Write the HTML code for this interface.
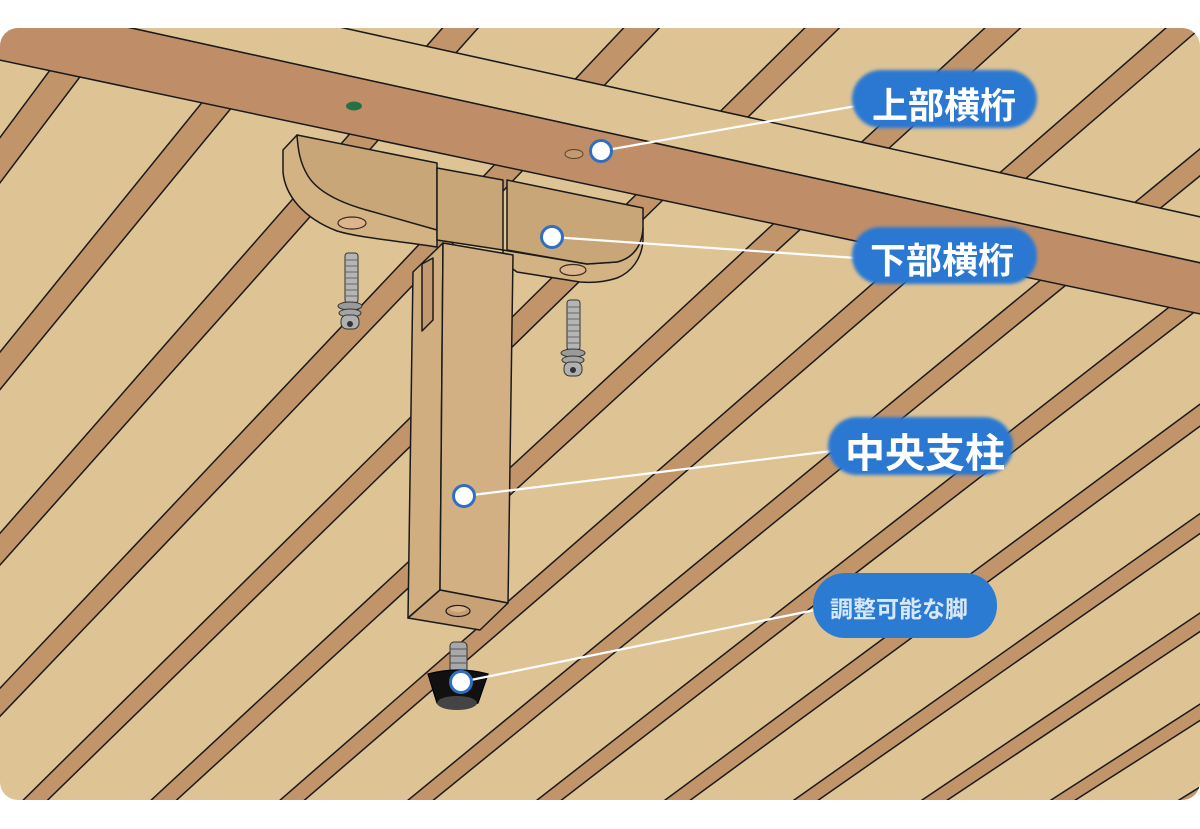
<!DOCTYPE html>
<html><head><meta charset="utf-8"><style>
html,body{margin:0;padding:0;background:#fff;width:1200px;height:829px;overflow:hidden}
svg{display:block}
text{font-family:"Liberation Sans","Noto Sans CJK JP",sans-serif;font-weight:bold}
</style></head><body>
<svg width="1200" height="829" viewBox="0 0 1200 829" xmlns="http://www.w3.org/2000/svg">
<defs>
<clipPath id="c"><rect x="0" y="28" width="1200" height="772" rx="18"/></clipPath>
<filter id="soft" x="-10%" y="-20%" width="120%" height="140%"><feGaussianBlur stdDeviation="1.6"/></filter>
</defs>
<g clip-path="url(#c)">
<rect x="0" y="0" width="1200" height="829" fill="#dec394"/>
<g fill="#c2946a" stroke="#1a1a1a" stroke-width="1.5">
<polygon points="-263,0 -227,0 -741,829 -766,829"/>
<polygon points="-80,0 -45,0 -614,829 -639,829"/>
<polygon points="102,0 138,0 -488,829 -513,829"/>
<polygon points="285,0 320,0 -361,829 -386,829"/>
<polygon points="467,0 503,0 -235,829 -259,829"/>
<polygon points="650,0 686,0 -108,829 -133,829"/>
<polygon points="833,0 868,0 18,829 -6,829"/>
<polygon points="1015,0 1051,0 145,829 120,829"/>
<polygon points="1198,0 1233,0 271,829 247,829"/>
<polygon points="1381,0 1416,0 398,829 373,829"/>
<polygon points="1563,0 1599,0 524,829 500,829"/>
<polygon points="1746,0 1781,0 651,829 626,829"/>
<polygon points="1928,0 1964,0 777,829 753,829"/>
<polygon points="2111,0 2147,0 904,829 879,829"/>
<polygon points="2294,0 2329,0 1030,829 1006,829"/>
<polygon points="2476,0 2512,0 1157,829 1132,829"/>
<polygon points="2659,0 2694,0 1284,829 1259,829"/>
</g>
<!-- light rail -->
<polygon points="-10,-50 1210,219 1210,265 -10,-3" fill="#dec394" stroke="#1a1a1a" stroke-width="1.5"/>
<!-- top beam -->
<polygon points="-10,-3 1210,265 1210,316 -10,58" fill="#bf8e69" stroke="#1a1a1a" stroke-width="1.5"/>
<ellipse cx="354" cy="106" rx="8" ry="4.5" fill="#2a6e45"/>
<ellipse cx="574" cy="154" rx="9" ry="4.5" fill="#c49a70" stroke="#5a4128" stroke-width="1"/>

<!-- bracket left wing -->
<g stroke="#1a1a1a" stroke-width="1.5" stroke-linejoin="round">
<path d="M297,135 L283,150 L283,172 C285,195 303,218 337,231 C360,238 400,241 437,247 L437,230 Z" fill="#d3b284"/>
<path d="M297,135 L437,163 L437,230 L370,211 C340,203 318,192 308,176 C300,163 298,150 297,135 Z" fill="#c9a678"/>
<ellipse cx="352" cy="223" rx="14" ry="6" fill="#dcb48e" stroke="#3a2a1a" stroke-width="1.2"/>
<!-- middle block -->
<polygon points="437,168 503,180 503,250 437,240" fill="#c9a678"/>
<!-- right wing -->
<path d="M503,250 L587,264 L617,262 C633,258 642,246 643,228 L643,240 C642,258 632,272 617,278 C605,282 592,283 580,282 L517,272 L503,262 Z" fill="#d3b284"/>
<path d="M507,180 L643,208 L643,228 C642,246 633,258 617,262 L587,264 L507,250 Z" fill="#c9a678"/>
<ellipse cx="573" cy="270" rx="13" ry="5.5" fill="#dcb48e" stroke="#3a2a1a" stroke-width="1.2"/>

<!-- post -->
<polygon points="413,272 443,243 440,590 408,618" fill="#d0ae80"/>
<polygon points="422,264 433,258 433,320 422,331" fill="#c39a70"/>
<polygon points="443,243 513,255 508,603 440,590" fill="#d2b084"/>
<polygon points="440,590 508,603 480,630 408,618" fill="#c9a176"/>
<ellipse cx="458" cy="611" rx="12" ry="5.5" fill="#c69c72" stroke="#1a1a1a" stroke-width="1.2"/>
<ellipse cx="458" cy="609" rx="8" ry="3" fill="#d9b48c" stroke="none"/>
</g>

<!-- screws -->
<g stroke="#333" stroke-width="1">
<rect x="345" y="253" width="13" height="50" rx="3" fill="#b5b5b5"/>
<path d="M345,260 h13 M345,266 h13 M345,272 h13 M345,278 h13 M345,284 h13 M345,290 h13 M345,296 h13" stroke="#666"/>
<ellipse cx="350" cy="306" rx="12" ry="4" fill="#9a9a9a"/>
<ellipse cx="350" cy="313" rx="11" ry="4" fill="#a5a5a5"/>
<rect x="341" y="315" width="18" height="14" rx="6" fill="#b0b0b0"/>
<circle cx="350" cy="324" r="2.5" fill="#333"/>
<rect x="567" y="300" width="13" height="50" rx="3" fill="#b5b5b5"/>
<path d="M567,307 h13 M567,313 h13 M567,319 h13 M567,325 h13 M567,331 h13 M567,337 h13 M567,343 h13" stroke="#666"/>
<ellipse cx="573" cy="353" rx="12" ry="4" fill="#9a9a9a"/>
<ellipse cx="573" cy="360" rx="11" ry="4" fill="#a5a5a5"/>
<rect x="564" y="362" width="18" height="14" rx="6" fill="#b0b0b0"/>
<circle cx="573" cy="370" r="2.5" fill="#333"/>
</g>

<!-- foot -->
<rect x="450" y="642" width="17" height="34" rx="4" fill="#a8a8a8" stroke="#333" stroke-width="1"/>
<path d="M450,649 h17 M450,656 h17 M450,663 h17 M450,670 h17" stroke="#555" stroke-width="1"/>
<path d="M428,674 Q458,666 488,674 L478,703 Q458,710 437,703 Z" fill="#111" stroke="#000" stroke-width="1.2"/>
<ellipse cx="457" cy="703" rx="20" ry="7" fill="#444"/>

<!-- connectors -->
<g stroke="#fff" stroke-width="2.2">
<line x1="601" y1="151" x2="856" y2="106"/>
<line x1="552" y1="237" x2="856" y2="258"/>
<line x1="464" y1="496" x2="832" y2="451"/>
<line x1="461" y1="682" x2="815" y2="610"/>
</g>
<g fill="#fff" stroke="#2f6fc0" stroke-width="3">
<circle cx="601" cy="151" r="10.5"/>
<circle cx="552" cy="237" r="10.5"/>
<circle cx="464" cy="496" r="10.5"/>
<circle cx="461" cy="682" r="10.5"/>
</g>

<!-- labels -->
<g filter="url(#soft)" fill="#2b78d2">
<rect x="852" y="70" width="185" height="58" rx="29"/>
<rect x="852" y="227" width="185" height="57" rx="28"/>
<rect x="828" y="417" width="185" height="58" rx="29"/>
</g>
<rect x="813" y="573" width="184" height="65" rx="32" fill="#2c7bd3"/>
<text x="872" y="118" font-size="36" fill="#fff">上部横桁</text>
<text x="870" y="273" font-size="36" fill="#fff">下部横桁</text>
<text x="845" y="467" font-size="40" fill="#fff">中央支柱</text>
<text x="830" y="617" font-size="23" fill="#d8e7fa">調整可能な脚</text>
</g>
</svg>
</body></html>
